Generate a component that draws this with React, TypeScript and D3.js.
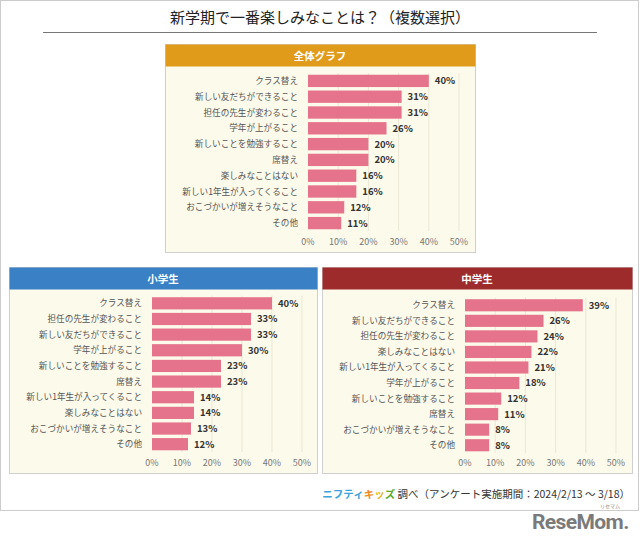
import React from 'react';
import * as d3 from 'd3';

const title = '新学期で一番楽しみなことは？（複数選択）';
const ticks = [0, 10, 20, 30, 40, 50];

const allCats = ['クラス替え', '新しい友だちができること', '担任の先生が変わること', '学年が上がること', '新しいことを勉強すること', '席替え', '楽しみなことはない', '新しい1年生が入ってくること', 'おこづかいが増えそうなこと', 'その他'];
const allVals = [40, 31, 31, 26, 20, 20, 16, 16, 12, 11];

const elemCats = ['クラス替え', '担任の先生が変わること', '新しい友だちができること', '学年が上がること', '新しいことを勉強すること', '席替え', '新しい1年生が入ってくること', '楽しみなことはない', 'おこづかいが増えそうなこと', 'その他'];
const elemVals = [40, 33, 33, 30, 23, 23, 14, 14, 13, 12];

const juniorCats = ['クラス替え', '新しい友だちができること', '担任の先生が変わること', '楽しみなことはない', '新しい1年生が入ってくること', '学年が上がること', '新しいことを勉強すること', '席替え', 'おこづかいが増えそうなこと', 'その他'];
const juniorVals = [39, 26, 24, 22, 21, 18, 12, 11, 8, 8];

const FONT = '"Noto Sans CJK JP", "Noto Sans", sans-serif';
const BAR = '#e5738b';

type PanelProps = {
  name: string;
  color: string;
  cats: string[];
  vals: number[];
  box: { x: number; y: number; w: number; h: number };
  plot: { x0: number; x1: number; y0: number; y1: number; axisY: number };
};

const Panel = ({ name, color, cats, vals, box, plot }: PanelProps) => {
  const x = d3.scaleLinear().domain([0, 50]).range([plot.x0, plot.x1]);
  const y = d3.scaleBand<string>().domain(cats).range([plot.y0, plot.y1]).paddingInner(0.22).paddingOuter(0.11);
  return (
    <g>
      <rect x={box.x + 0.5} y={box.y + 0.5} width={box.w} height={box.h} fill="#fcfaeb" stroke="#cfcfcf" />
      <rect x={box.x + 0.5} y={box.y + 0.5} width={box.w} height={22} fill={color} />
      <text x={box.x + box.w / 2} y={box.y + 15.5} textAnchor="middle" fill="#fff" fontSize={10.5} fontWeight="bold" fontFamily={FONT}>{name}</text>
      {ticks.slice(1).map(t => (
        <line key={t} x1={x(t)} x2={x(t)} y1={plot.y0} y2={plot.y1} stroke="#ebe7d6" strokeWidth={1} />
      ))}
      {cats.map((c, i) => (
        <g key={c}>
          <rect x={x(0)} y={y(c)} width={x(vals[i]) - x(0)} height={y.bandwidth()} fill={BAR} />
          <text x={x(0) - 10} y={(y(c) as number) + y.bandwidth() / 2} dy="0.35em" textAnchor="end" fontSize={8.6} fill="#555" fontFamily={FONT}>{c}</text>
          <text x={x(vals[i]) + 6} y={(y(c) as number) + y.bandwidth() / 2} dy="0.36em" fontSize={9.5} fontWeight="bold" fill="#333" fontFamily={FONT}>{vals[i]}%</text>
        </g>
      ))}
      {ticks.map(t => (
        <text key={t} x={x(t)} y={plot.axisY} dy="0.35em" textAnchor="middle" fontSize={9} fill="#777" fontFamily={FONT}>{t}%</text>
      ))}
    </g>
  );
};

const App = () => {
  return (
    <svg width={640} height={539} style={{ position: 'absolute', left: 0, top: 0, background: '#fff' }}>
      <rect x={0.5} y={0.5} width={638} height={510} fill="#fff" stroke="#cccccc" />
      <text x={320} y={23} textAnchor="middle" fontSize={15} fill="#222" fontFamily={FONT}>{title}</text>
      <line x1={43} x2={597} y1={32.5} y2={32.5} stroke="#777" strokeWidth={1} />

      <Panel name="全体グラフ" color="#e09b1a" cats={allCats} vals={allVals}
        box={{ x: 165, y: 44, w: 310, h: 208 }}
        plot={{ x0: 308, x1: 459, y0: 73, y1: 231, axisY: 242 }} />
      <Panel name="小学生" color="#3a80c4" cats={elemCats} vals={elemVals}
        box={{ x: 9, y: 267, w: 308, h: 206 }}
        plot={{ x0: 152, x1: 302, y0: 295.5, y1: 452, axisY: 463 }} />
      <Panel name="中学生" color="#9e2b2b" cats={juniorCats} vals={juniorVals}
        box={{ x: 322, y: 267, w: 310, h: 206 }}
        plot={{ x0: 465, x1: 616, y0: 297.5, y1: 453, axisY: 463 }} />

      <text x={630} y={498} textAnchor="end" fontSize={10.5} fontFamily={FONT}>
        <tspan fill="#3aa3dc" fontWeight="bold">ニフティ</tspan>
        <tspan fill="#ef8a1c" fontWeight="bold">キ</tspan>
        <tspan fill="#e9b21a" fontWeight="bold">ッ</tspan>
        <tspan fill="#5aaa2e" fontWeight="bold">ズ</tspan>
        <tspan fill="#333"> 調べ（アンケート実施期間：2024/2/13 ～ 3/18）</tspan>
      </text>

      <text x={610} y={508} textAnchor="middle" fontSize={5} fill="#888" fontFamily={FONT}>リセマム</text>
      <text x={532} y={529} fontSize={21} fontWeight="bold" fill="#7a7a7a" fontFamily="Roboto, sans-serif" letterSpacing={-0.6}>ReseMom.</text>
    </svg>
  );
};

export default App;
